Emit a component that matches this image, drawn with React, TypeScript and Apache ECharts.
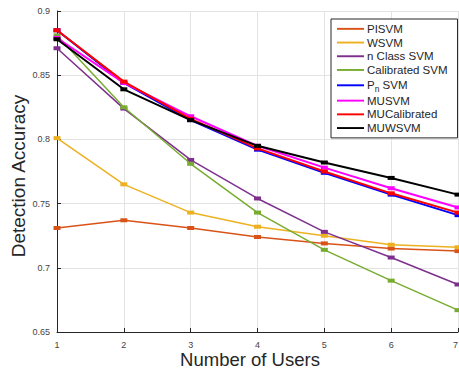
import React, { useEffect, useRef } from "react";
import * as echarts from "echarts";

const users = [1, 2, 3, 4, 5, 6, 7];
const yTicks = [0.65, 0.7, 0.75, 0.8, 0.85, 0.9];
const xTitle = "Number of Users";
const yTitle = "Detection Accuracy";
const seriesNames = ["PISVM", "WSVM", "n Class SVM", "Calibrated SVM", "Pn SVM", "MUSVM", "MUCalibrated", "MUWSVM"];
const seriesColors = ["#D95319", "#EDB120", "#7E2F8E", "#77AC30", "#0000FF", "#FF00FF", "#FF0000", "#000000"];
const pisvm = [0.731, 0.737, 0.731, 0.724, 0.719, 0.715, 0.713];
const wsvm = [0.801, 0.765, 0.743, 0.732, 0.725, 0.718, 0.716];
const nClassSvm = [0.871, 0.824, 0.784, 0.754, 0.728, 0.708, 0.687];
const calibratedSvm = [0.881, 0.825, 0.781, 0.743, 0.714, 0.690, 0.667];
const pnSvm = [0.885, 0.844, 0.815, 0.792, 0.774, 0.757, 0.741];
const muSvm = [0.879, 0.844, 0.818, 0.795, 0.778, 0.762, 0.747];
const muCalibrated = [0.885, 0.845, 0.816, 0.793, 0.775, 0.758, 0.743];
const muWsvm = [0.878, 0.839, 0.815, 0.795, 0.782, 0.770, 0.757];
const allValues = [pisvm, wsvm, nClassSvm, calibratedSvm, pnSvm, muSvm, muCalibrated, muWsvm];

export default function App() {
  const ref = useRef<HTMLDivElement>(null);
  useEffect(() => {
    if (!ref.current) return;
    const chart = echarts.init(ref.current, null, { renderer: "svg" });
    const font = "Liberation Sans, Arial, Helvetica, sans-serif";
    chart.setOption({
      animation: false,
      textStyle: { fontFamily: font },
      grid: { left: 57, top: 11, right: 1, bottom: 37, containLabel: false, outerBoundsMode: "none" },
      graphic: [
        {
          type: "text",
          x: 250,
          y: 359,
          style: { text: xTitle, fontSize: 18.5, fontFamily: font, fill: "#262626", align: "center", verticalAlign: "middle" },
        },
        {
          type: "text",
          x: 18,
          y: 176,
          rotation: Math.PI / 2,
          style: { text: yTitle, fontSize: 19, fontFamily: font, fill: "#262626", align: "center", verticalAlign: "middle" },
        },
      ],
      legend: {
        orient: "vertical",
        left: 331,
        top: 19,
        width: 122,
        padding: [3, 10, 3, 6],
        itemGap: 0,
        itemWidth: 27,
        itemHeight: 13,
        borderColor: "#262626",
        borderWidth: 1,
        backgroundColor: "#fff",
        data: seriesNames.map((n, i) => ({
          name: n,
          icon: "path://M0,6 L28,6 L28,8 L0,8 Z",
          itemStyle: { color: seriesColors[i] },
        })),
        formatter: (name: string) => (name === "Pn SVM" ? "P{sub|n} SVM" : name),
        textStyle: {
          fontFamily: font,
          fontSize: 11.5,
          lineHeight: 13.7,
          color: "#262626",
          padding: [0, 0, 0, -2],
          rich: {
            sub: { fontSize: 8.5, lineHeight: 17, verticalAlign: "bottom", padding: [8, 0, 0, 0], fontFamily: font, color: "#262626" },
          },
        },
      },
      xAxis: {
        type: "value",
        min: 1,
        max: 7,
        interval: 1,
        axisLine: { lineStyle: { color: "#262626", width: 1 } },
        axisTick: { inside: true, length: 4, lineStyle: { color: "#262626" } },
        axisLabel: { fontSize: 9, color: "#444", margin: 8, alignMaxLabel: "right" },
        splitLine: { show: true, lineStyle: { color: "#e3e3e3", width: 1 } },
      },
      yAxis: {
        type: "value",
        min: 0.65,
        max: 0.9,
        interval: 0.05,
        axisLine: { show: true, lineStyle: { color: "#262626", width: 1 } },
        axisTick: { show: true, inside: true, length: 4, lineStyle: { color: "#262626" } },
        axisLabel: {
          fontSize: 9,
          color: "#444",
          margin: 7,
          formatter: (v: number) => {
            const t = yTicks.find((x) => Math.abs(x - v) < 1e-6);
            return String(Number((t ?? v).toFixed(2)));
          },
        },
        splitLine: { show: true, lineStyle: { color: "#e3e3e3", width: 1 } },
      },
      series: seriesNames.map((n, i) => ({
        name: n,
        type: "line",
        data: users.map((u, j) => [u, allValues[i][j]]),
        symbol: "rect",
        symbolSize: [7, 4],
        showSymbol: true,
        lineStyle: { color: seriesColors[i], width: i >= 4 ? 2 : 1.5 },
        itemStyle: { color: seriesColors[i] },
        z: 2 + i,
        clip: false,
      })),
    });
    return () => chart.dispose();
  }, []);
  return <div ref={ref} style={{ width: 459, height: 369, position: "absolute", left: 0, top: 0 }} />;
}
